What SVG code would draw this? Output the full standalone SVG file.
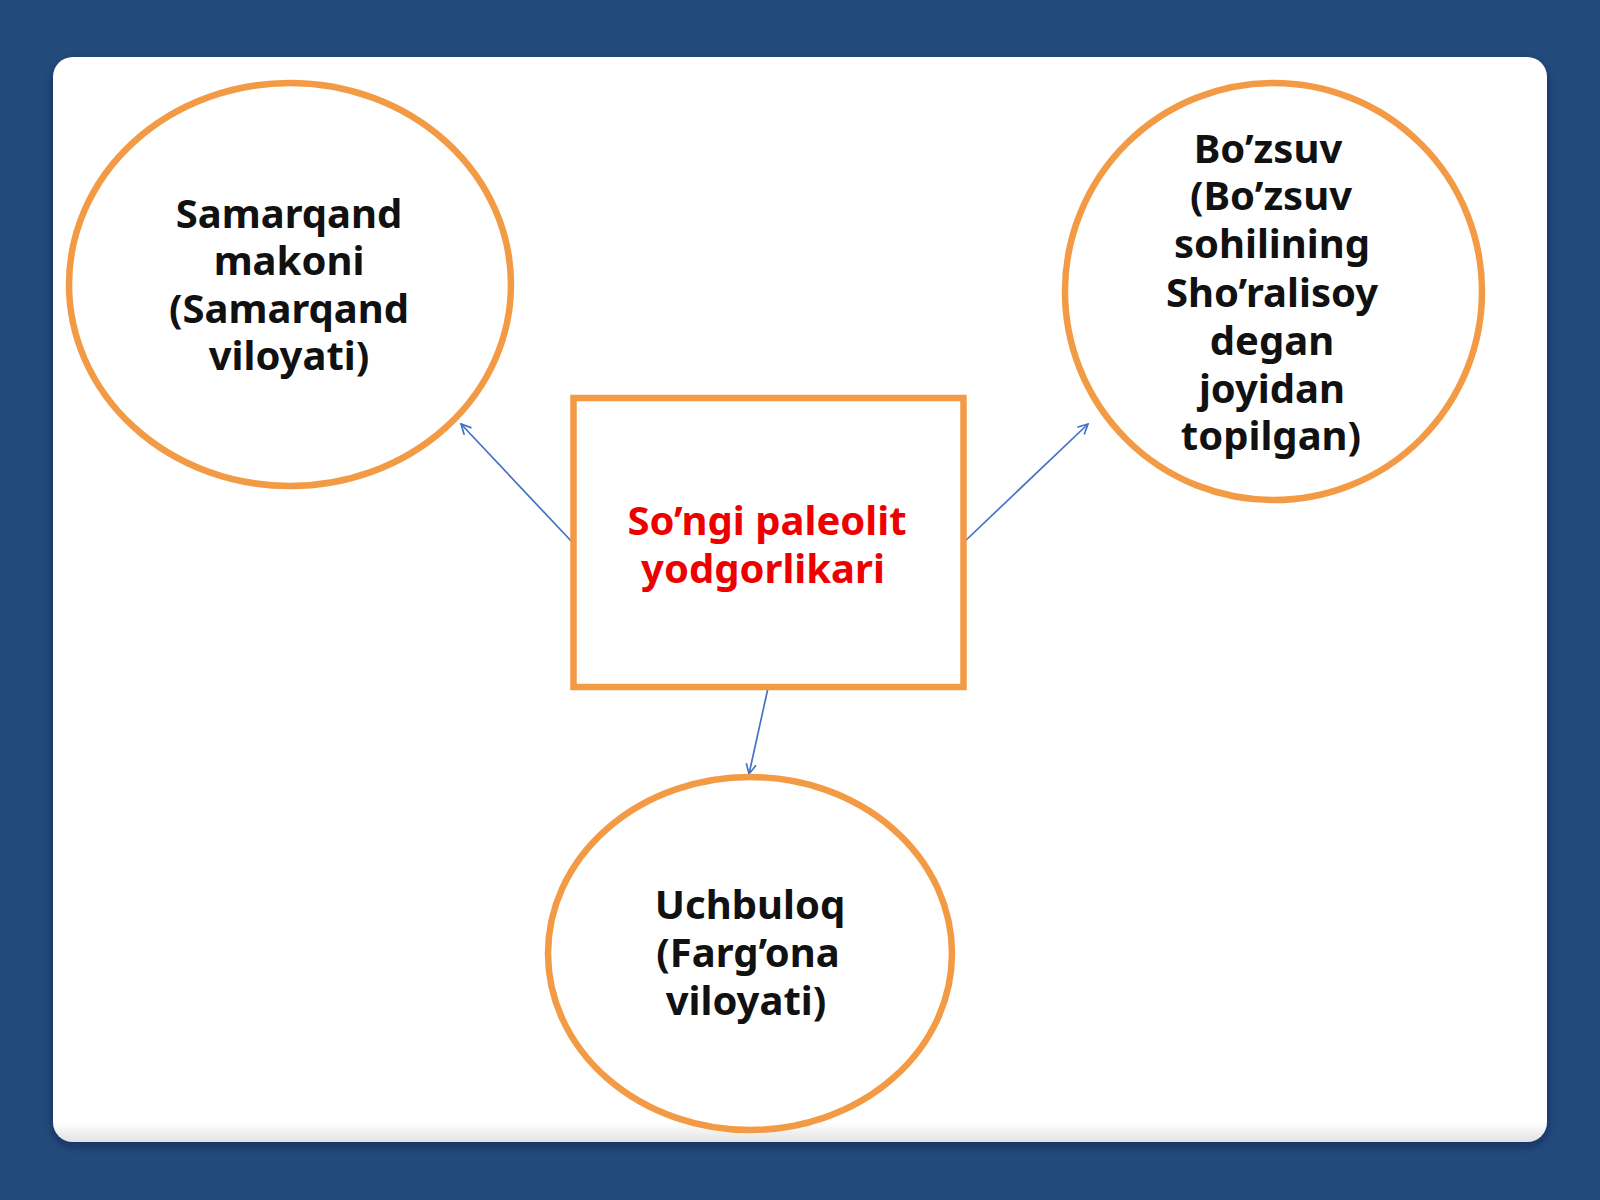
<svg xmlns="http://www.w3.org/2000/svg" width="1600" height="1200" viewBox="0 0 1600 1200">
<defs>
<style>
.node{fill:#ffffff;stroke:#f39a45;stroke-width:6.5}
.lbl{font-family:"Noto Sans","Open Sans","DejaVu Sans",sans-serif;font-weight:bold;font-size:40px;fill:#111111;text-anchor:middle}
.red{fill:#ee0000}
.conn{stroke:#4472c4;stroke-width:1.7;fill:none}
</style>
<marker id="arr" viewBox="0 0 12 12" refX="11" refY="6" markerWidth="12" markerHeight="12" markerUnits="userSpaceOnUse" orient="auto">
<path d="M1,1 L11,6 L1,11" fill="none" stroke="#4472c4" stroke-width="1.7"/>
</marker>
<filter id="sh" x="-5%" y="-5%" width="110%" height="115%">
<feDropShadow dx="0" dy="4" stdDeviation="4" flood-color="#0a1e3c" flood-opacity="0.45"/>
</filter>
<linearGradient id="pg" x1="0" y1="0" x2="0" y2="1">
<stop offset="0.982" stop-color="#ffffff"/>
<stop offset="1" stop-color="#e2e2e6"/>
</linearGradient>
</defs>
<rect x="0" y="0" width="1600" height="1200" fill="#224a7b"/>
<rect id="panel" x="53" y="57" width="1494" height="1085" rx="20" ry="20" fill="url(#pg)" filter="url(#sh)"/>
<g id="connectors">
<line class="conn" x1="573" y1="543" x2="461" y2="424" marker-end="url(#arr)"/>
<line class="conn" x1="963" y1="543" x2="1088" y2="424" marker-end="url(#arr)"/>
<line class="conn" x1="768" y1="688" x2="749" y2="774" marker-end="url(#arr)"/>
</g>
<g id="center">
<rect class="node" x="573.5" y="398" width="390" height="289"/>
<text class="lbl red" x="767" y="535">So’ngi paleolit</text>
<text class="lbl red" x="763" y="583">yodgorlikari</text>
</g>
<g id="samarqand">
<ellipse class="node" cx="290" cy="284.5" rx="221" ry="201.5"/>
<text class="lbl" x="289" y="228">Samarqand</text>
<text class="lbl" x="289" y="275">makoni</text>
<text class="lbl" x="289" y="323">(Samarqand</text>
<text class="lbl" x="289" y="370">viloyati)</text>
</g>
<g id="bozsuv">
<circle class="node" cx="1273.5" cy="291.5" r="208.5"/>
<text class="lbl" x="1268" y="163">Bo’zsuv</text>
<text class="lbl" x="1271" y="210">(Bo’zsuv</text>
<text class="lbl" x="1272" y="258">sohilining</text>
<text class="lbl" x="1272" y="307">Sho’ralisoy</text>
<text class="lbl" x="1272" y="355">degan</text>
<text class="lbl" x="1272" y="403">joyidan</text>
<text class="lbl" x="1271" y="450">topilgan)</text>
</g>
<g id="uchbuloq">
<ellipse class="node" cx="750" cy="953.5" rx="202" ry="176.5"/>
<text class="lbl" x="750" y="919">Uchbuloq</text>
<text class="lbl" x="748" y="967">(Farg’ona</text>
<text class="lbl" x="746" y="1015">viloyati)</text>
</g>
</svg>
